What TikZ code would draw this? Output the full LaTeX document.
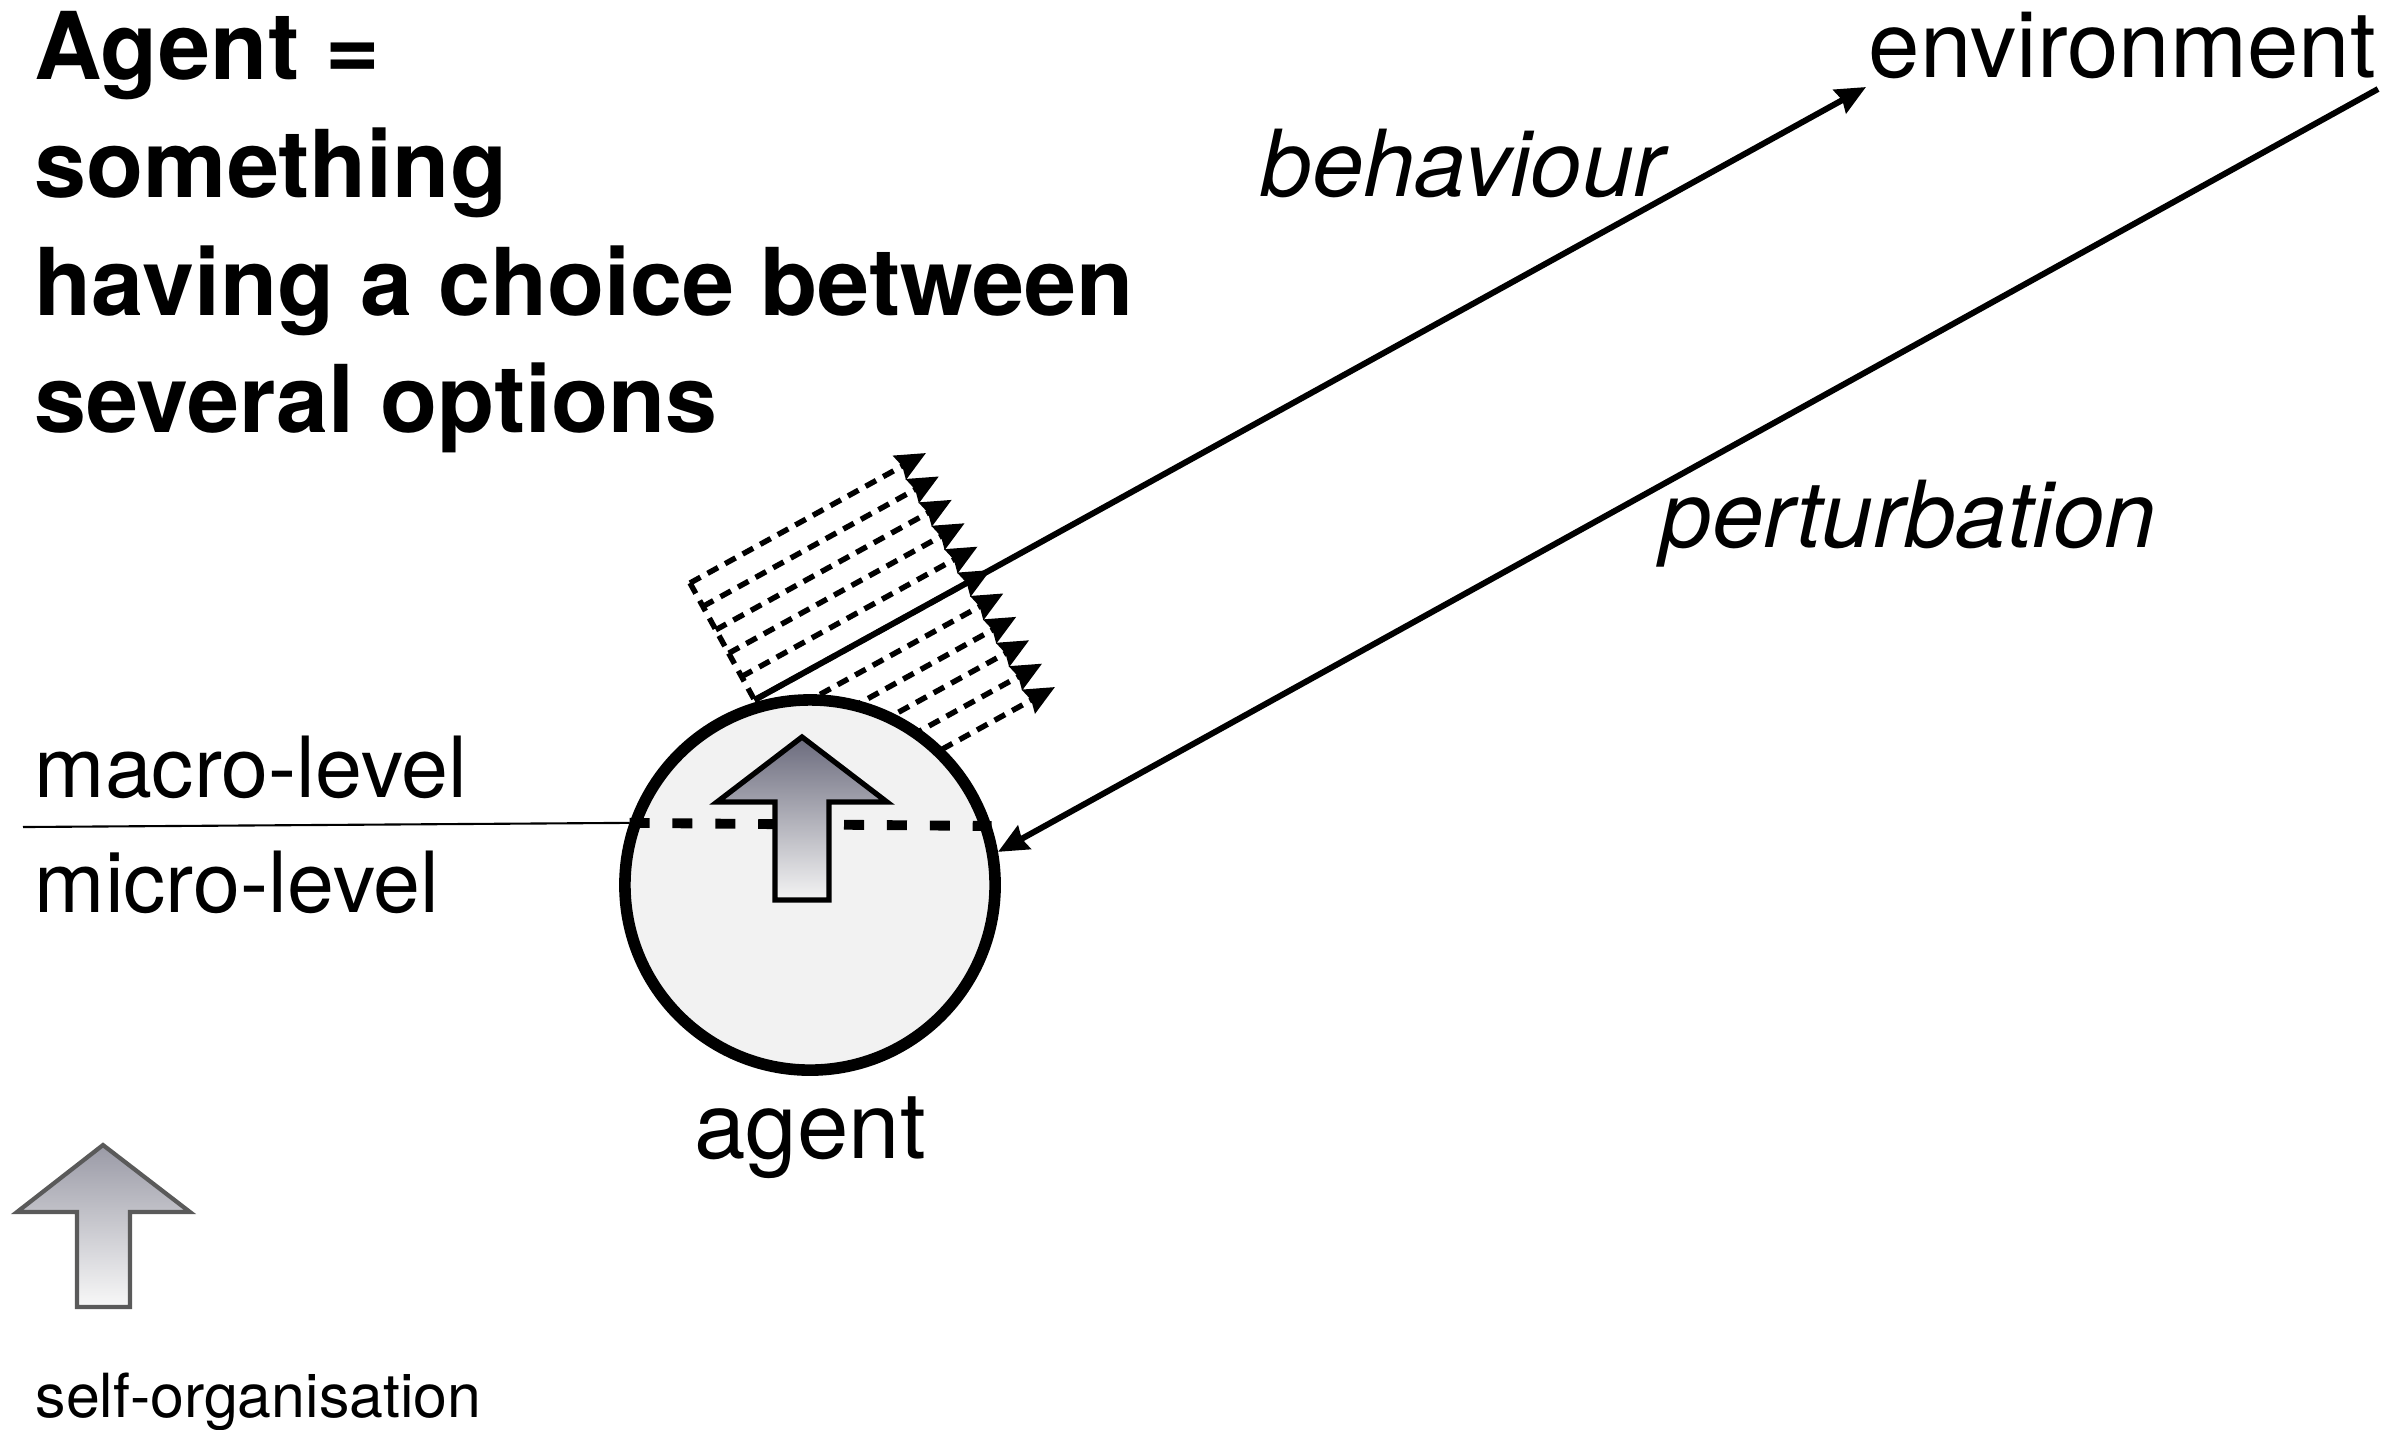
\documentclass[tikz,border=0pt]{standalone}
\usepackage{fontspec}
\setmainfont{TeX Gyre Heros}
\usetikzlibrary{arrows.meta, calc}

\definecolor{agentfill}{HTML}{F2F2F2}
\definecolor{bigtop}{HTML}{6B6B7D}
\definecolor{bigbottom}{HTML}{F4F4F4}
\definecolor{smalltop}{HTML}{9A9AA6}
\definecolor{smallbottom}{HTML}{F8F8F8}
\definecolor{smalledge}{HTML}{5A5A5A}

\tikzset{
  titletext/.style={inner sep=0pt, anchor=base west, font=\fontsize{26.6}{30}\selectfont\bfseries},
  bigtext/.style={inner sep=0pt, anchor=base west, font=\fontsize{26.3}{30}\selectfont},
  leveltext/.style={inner sep=0pt, anchor=base west, font=\fontsize{24}{28}\selectfont},
  agentcircle/.style={circle, draw=black, line width=3.3pt, fill=agentfill, minimum size=3.7cm, inner sep=0pt},
  link/.style={line width=1.7pt, -{Stealth[length=8.5pt, width=7.5pt, inset=0.8pt]}},
  option/.style={link, line width=1.55pt, dash pattern=on 3.4pt off 2.3pt},
  optionedge/.style={line width=1.55pt, dash pattern=on 3.4pt off 2.3pt},
  leveldash/.style={line width=2.8pt, dash pattern=on 5.7pt off 6.5pt}
}

\begin{document}
\begin{tikzpicture}[x=0.01cm, y=-0.01cm]
\useasboundingbox (0,0) rectangle (2395,1429);

% title
\node[titletext] (t1) at (34,79) {Agent =};
\node[titletext] (t2) at (34,197) {something};
\node[titletext] (t3) at (34,315) {having a choice between};
\node[titletext] (t4) at (34,432) {several options};

% environment and the two labels
\node[bigtext] (env) at (1868,77) {environment};
\node[bigtext] (beh) at (1260,196) {\itshape behaviour};
\node[bigtext] (pert) at (1660,547) {\itshape perturbation};
\coordinate (envin) at (1866,87);
\coordinate (envout) at (2378,89);

% the options, fanned out from the agent
\coordinate (opt0) at (690,583);
\foreach \i in {0,...,10}
  \draw[option] ($(opt0)+\i*(12.9,23.4)$) -- ++(236,-130);
\draw[optionedge] (opt0) -- ++(129,234);

% agent
\node[agentcircle] (agent) at (810,885) {};
\node[bigtext, anchor=base] (agentlabel) at (810,1158) {agent};

% levels
\node[leveltext] (macro) at (34,797) {macro-level};
\node[leveltext] (micro) at (34,912) {micro-level};
\coordinate (levelstart) at (23,827);
\draw[line width=0.6pt] (levelstart) -- (agent.161.7);
\draw[leveldash] (agent.161.7) -- (agent.18.3);

% upward arrow inside the agent
\path[draw=black, line width=1.5pt, top color=bigtop, bottom color=bigbottom]
  (802,737) -- (887,802) -- (829,802) -- (829,900) -- (775,900) -- (775,802) -- (717,802) -- cycle;

% behaviour and perturbation
\draw[link] ($(opt0)+5*(12.9,23.4)$) -- (envin);
\draw[link] (envout) -- (agent.10.5);

% legend
\path[draw=smalledge, line width=1.2pt, top color=smalltop, bottom color=smallbottom]
  (103,1145) -- (190,1212) -- (130,1212) -- (130,1307) -- (77,1307) -- (77,1212) -- (17,1212) -- cycle;
\node[inner sep=0pt, anchor=base west, font=\fontsize{17.3}{20}\selectfont] (selforg) at (35,1417) {self-organisation};
\end{tikzpicture}
\end{document}
